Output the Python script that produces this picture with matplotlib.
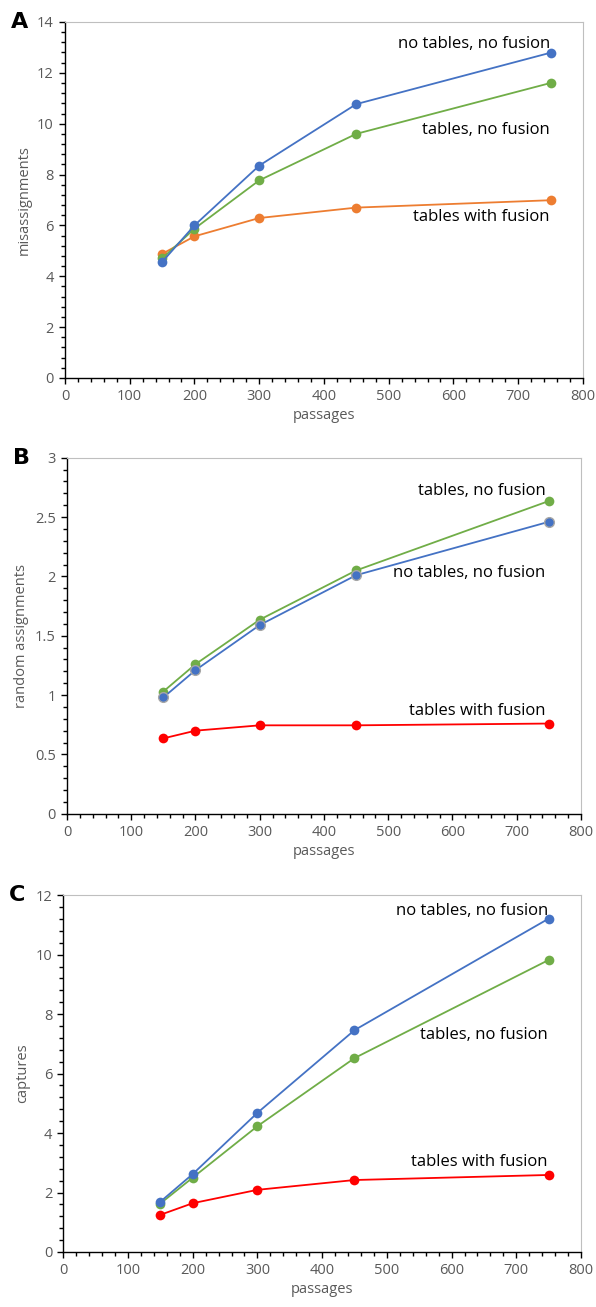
import numpy as np
import matplotlib
matplotlib.use("Agg")
import matplotlib.pyplot as plt
from matplotlib.ticker import MultipleLocator

plt.rcParams['font.family'] = ['Open Sans', 'DejaVu Sans']

passages = [150, 200, 300, 450, 750]

# panel A: misassignments
mis_no_tables = [4.56, 6.00, 8.35, 10.77, 12.79]
mis_tables = [4.70, 5.87, 7.77, 9.60, 11.60]
mis_fusion = [4.88, 5.57, 6.29, 6.70, 6.99]

# panel B: random assignments
rnd_tables = [1.03, 1.26, 1.635, 2.05, 2.635]
rnd_no_tables = [0.98, 1.21, 1.59, 2.01, 2.46]
rnd_fusion = [0.635, 0.70, 0.745, 0.745, 0.76]

# panel C: captures
cap_no_tables = [1.69, 2.62, 4.68, 7.46, 11.21]
cap_tables = [1.63, 2.50, 4.23, 6.52, 9.82]
cap_fusion = [1.25, 1.64, 2.09, 2.42, 2.59]

BLUE = '#4472C4'
GREEN = '#70AD47'
ORANGE = '#ED7D31'
RED = '#FF0000'
GREY = '#595959'

fig = plt.figure(figsize=(5.96, 13.07), dpi=100)


def style_axes(ax, ymax, ymajor, yminor, ylabel, letter):
    ax.set_xlim(0, 800)
    ax.set_ylim(0, ymax)
    ax.xaxis.set_major_locator(MultipleLocator(100))
    ax.xaxis.set_minor_locator(MultipleLocator(20))
    ax.yaxis.set_major_locator(MultipleLocator(ymajor))
    ax.yaxis.set_minor_locator(MultipleLocator(yminor))
    ax.yaxis.set_major_formatter(plt.FuncFormatter(lambda v, p: ('%g' % v)))
    for s in ['top', 'right']:
        ax.spines[s].set_color('#BFBFBF')
        ax.spines[s].set_linewidth(0.8)
    for s in ['left', 'bottom']:
        ax.spines[s].set_color('black')
        ax.spines[s].set_linewidth(1.0)
    ax.tick_params(which='major', length=4, width=1, color='black',
                   labelsize=10.5, labelcolor=GREY, pad=4)
    ax.tick_params(which='minor', length=3, width=1, color='black')
    ax.set_xlabel('passages', fontsize=10.5, color=GREY, labelpad=3)
    ax.set_ylabel(ylabel, fontsize=10.5, color=GREY, labelpad=4)
    ax.text(-0.105, 1.0, letter, transform=ax.transAxes, fontsize=16,
            fontweight='bold', family='DejaVu Sans', ha='left', va='center')


def plot_series(ax, y, col, edge=None):
    ax.plot(passages, y, '-', color=col, lw=1.3, marker='o', markersize=7,
            markerfacecolor=col, markeredgecolor=edge or col,
            markeredgewidth=1 if edge else 0, clip_on=False, zorder=3)


# A
ax = fig.add_axes([0.109, 0.7108, 0.869, 0.2724])
plot_series(ax, mis_fusion, ORANGE)
plot_series(ax, mis_tables, GREEN)
plot_series(ax, mis_no_tables, BLUE)
style_axes(ax, 14, 2, 0.4, 'misassignments', 'A')
ax.text(749, 13.13, 'no tables, no fusion', fontsize=12, ha='right', va='center')
ax.text(749, 9.75, 'tables, no fusion', fontsize=12, ha='right', va='center')
ax.text(749, 6.33, 'tables with fusion', fontsize=12, ha='right', va='center')

# B
ax = fig.add_axes([0.1124, 0.3774, 0.8624, 0.2724])
plot_series(ax, rnd_fusion, RED)
plot_series(ax, rnd_tables, GREEN)
plot_series(ax, rnd_no_tables, BLUE, edge='#A6A6A6')
style_axes(ax, 3, 0.5, 0.1, 'random assignments', 'B')
ax.text(745, 2.72, 'tables, no fusion', fontsize=12, ha='right', va='center')
ax.text(745, 2.03, 'no tables, no fusion', fontsize=12, ha='right', va='center')
ax.text(745, 0.865, 'tables with fusion', fontsize=12, ha='right', va='center')

# C
ax = fig.add_axes([0.1062, 0.0421, 0.8686, 0.273])
plot_series(ax, cap_fusion, RED)
plot_series(ax, cap_tables, GREEN)
plot_series(ax, cap_no_tables, BLUE)
style_axes(ax, 12, 2, 0.4, 'captures', 'C')
ax.text(749, 11.47, 'no tables, no fusion', fontsize=12, ha='right', va='center')
ax.text(749, 7.30, 'tables, no fusion', fontsize=12, ha='right', va='center')
ax.text(749, 3.04, 'tables with fusion', fontsize=12, ha='right', va='center')

fig.savefig('out.png', dpi=100)
